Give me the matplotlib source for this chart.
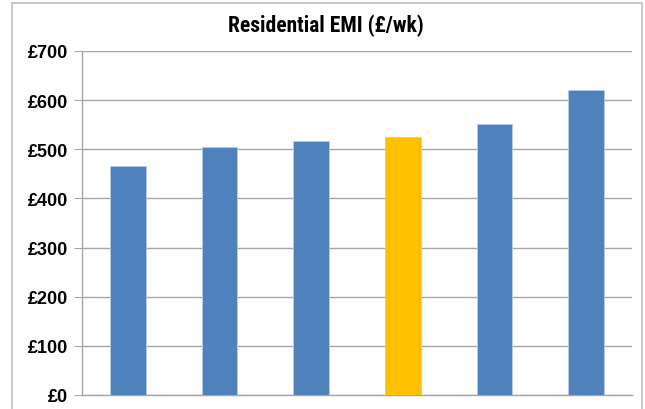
import matplotlib
matplotlib.use("Agg")
import matplotlib.pyplot as plt
from matplotlib import font_manager
from matplotlib.patches import Rectangle
from matplotlib.ticker import FuncFormatter, MultipleLocator

# weekly residential EMI per bar, the 4th one is highlighted
emi_values = [466, 504, 516, 525, 552, 621]
highlight = 3
title = "Residential EMI (£/wk)"

blue = "#4F81BD"
gold = "#FFC000"
grid_grey = "#A6A6A6"

plt.rcParams['font.family'] = ['Liberation Sans', 'DejaVu Sans']

# pick a narrow face for the title if one is installed
names = {f.name for f in font_manager.fontManager.ttflist}
narrow = [n for n in ['Liberation Sans Narrow', 'DejaVu Sans Condensed', 'Roboto Condensed',
                      'Open Sans Condensed'] if n in names]

fig = plt.figure(figsize=(6.45, 4.10), dpi=100)
ax = fig.add_axes([82 / 645, 14 / 410, 550 / 645, 344 / 410])

x = list(range(len(emi_values)))
colors = [gold if i == highlight else blue for i in x]
ax.bar(x, emi_values, width=0.39, color=colors, edgecolor="#B8CCE4", linewidth=0.6, zorder=3)

ax.set_xlim(-0.5, len(emi_values) - 0.5)
ax.set_ylim(0, 700)
ax.yaxis.set_major_locator(MultipleLocator(100))
ax.yaxis.set_major_formatter(FuncFormatter(lambda v, p: f"£{v:.0f}"))
ax.grid(axis="y", color=grid_grey, linewidth=1.0, zorder=0)
ax.set_xticks([])

for side in ["top", "right"]:
    ax.spines[side].set_visible(False)
for side in ["left", "bottom"]:
    ax.spines[side].set_color(grid_grey)
    ax.spines[side].set_linewidth(1.0)

ax.tick_params(axis="y", length=6, color=grid_grey, pad=4)
for lab in ax.get_yticklabels():
    lab.set_fontsize(13)
    lab.set_fontweight("bold")
    lab.set_fontfamily(['Liberation Sans', 'DejaVu Sans'])

if narrow:
    fig.text(326 / 645, 1 - 26 / 410, title, ha="center", va="center",
             fontsize=15.5, fontweight="bold", family=[narrow[0], 'DejaVu Sans'])
else:
    fig.text(326 / 645, 1 - 26 / 410, title, ha="center", va="center",
             fontsize=13.5, fontweight="bold", fontstretch="condensed",
             family=['DejaVu Sans'])

# chart frame, bottom edge runs off the image
fig.patches.append(Rectangle((12 / 645, -0.1), 629.5 / 645, 1.1 - 3.5 / 410,
                             transform=fig.transFigure, fill=False,
                             edgecolor="#BFBFBF", linewidth=1.2))

fig.savefig("out.png", dpi=100)
